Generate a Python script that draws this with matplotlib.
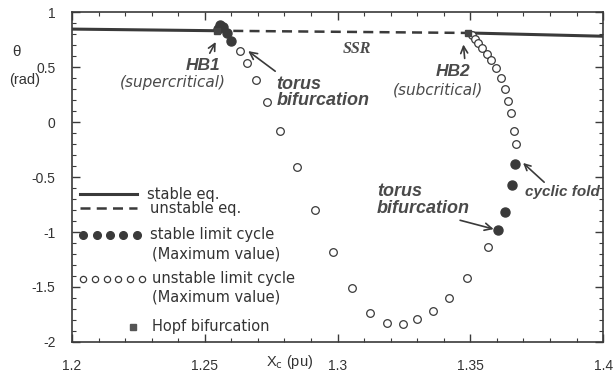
import matplotlib.pyplot as plt
from matplotlib.ticker import MultipleLocator
import numpy as np

plt.rcParams['font.family'] = ['Liberation Sans', 'DejaVu Sans']

# equilibrium branch (theta vs Xc)
eq_stable_left_x = [1.2, 1.2546]
eq_stable_left_y = [0.845, 0.83]
eq_unstable_x = [1.2546, 1.349]
eq_unstable_y = [0.83, 0.81]
eq_stable_right_x = [1.349, 1.4]
eq_stable_right_y = [0.81, 0.78]

# stable limit cycles (maximum value)
slc_left_x = [1.2548, 1.2556, 1.2568, 1.2582, 1.2600]
slc_left_y = [0.85, 0.88, 0.86, 0.81, 0.74]
slc_right_x = [1.3669, 1.3657, 1.3631, 1.3605]
slc_right_y = [-0.38, -0.57, -0.82, -0.98]

# unstable limit cycles (maximum value)
ulc_x = [1.2633, 1.2659, 1.2693, 1.2734, 1.2783, 1.2847, 1.2915, 1.2983,
         1.3055, 1.3122, 1.3186, 1.3247, 1.3299, 1.3360, 1.3420, 1.3488,
         1.3567]
ulc_y = [0.645, 0.536, 0.38, 0.18, -0.08, -0.41, -0.80, -1.18,
         -1.51, -1.74, -1.83, -1.84, -1.79, -1.72, -1.60, -1.42,
         -1.14]
ulc2_x = [1.3505, 1.3518, 1.3530, 1.3545, 1.3562, 1.3578, 1.3597, 1.3615,
          1.3630, 1.3642, 1.3654, 1.3665, 1.3672]
ulc2_y = [0.79, 0.755, 0.72, 0.675, 0.62, 0.56, 0.49, 0.40,
          0.30, 0.19, 0.08, -0.08, -0.20]

# Hopf bifurcation points
hopf_x = [1.2546, 1.349]
hopf_y = [0.83, 0.81]

col = "#3a3a3a"
txtcol = "#4a4a4a"

fig = plt.figure(figsize=(6.16, 3.81), dpi=100)
ax = fig.add_axes([0.117, 0.1024, 0.862, 0.866])

ax.plot(eq_stable_left_x, eq_stable_left_y, color=col, lw=2.2)
ax.plot(eq_stable_right_x, eq_stable_right_y, color=col, lw=2.2)
ax.plot(eq_unstable_x, eq_unstable_y, color=col, lw=1.8, dashes=(4, 2.5))
ax.plot(ulc_x, ulc_y, "o", ms=5.5, mfc="white", mec=col, mew=0.9, ls="none")
ax.plot(ulc2_x, ulc2_y, "o", ms=5.5, mfc="white", mec=col, mew=0.9, ls="none")
ax.plot(slc_left_x, slc_left_y, "o", ms=6.5, color=col, ls="none")
ax.plot(slc_right_x, slc_right_y, "o", ms=6.5, color=col, ls="none")
ax.plot(hopf_x, hopf_y, "s", ms=5, color="#444444", ls="none")

ax.set_xlim(1.2, 1.4)
ax.set_ylim(-2, 1)
ax.xaxis.set_major_locator(MultipleLocator(0.05))
ax.xaxis.set_minor_locator(MultipleLocator(0.01))
ax.yaxis.set_major_locator(MultipleLocator(0.5))
ax.yaxis.set_minor_locator(MultipleLocator(0.1))
ax.xaxis.set_major_formatter(plt.FuncFormatter(lambda v, p: ("%.2f" % v).rstrip("0").rstrip(".")))
ax.yaxis.set_major_formatter(plt.FuncFormatter(lambda v, p: ("%.1f" % v).rstrip("0").rstrip(".")))
ax.tick_params(which="both", direction="in", top=True, right=True, colors=col,
               labelsize=10, labelcolor="#333333")
ax.tick_params(which="major", length=6, width=1)
ax.tick_params(which="minor", length=3, width=0.8)
ax.tick_params(axis="x", pad=12)
ax.tick_params(axis="y", pad=12)
for s in ax.spines.values():
    s.set_color(col)
    s.set_linewidth(1.2)

# axis labels
fig.text(16 / 616, 1 - 52 / 381, "θ", fontsize=11, color="#333333", ha="center", va="center")
fig.text(25 / 616, 1 - 80 / 381, "(rad)", fontsize=10.5, color="#333333", ha="center", va="center")
fig.text(290 / 616, 1 - 362 / 381, "X$_{\\rm c}$ (pu)", fontsize=10.5, color="#333333",
         ha="center", va="center")

# annotations
bi = dict(fontsize=12.5, fontweight="bold", fontstyle="italic", color=txtcol)
bi2 = dict(fontsize=13, fontweight="bold", fontstyle="italic", color=txtcol)
it = dict(fontsize=11, fontstyle="italic", color=txtcol, family="DejaVu Sans")

ax.annotate("HB1", xy=(1.2546, 0.75), xytext=(1.2495, 0.51), ha="center", va="center",
            arrowprops=dict(arrowstyle="->", color=col, lw=1.2, relpos=(0.6, 1.0)), **bi)
ax.text(1.2380, 0.36, "(supercritical)", ha="center", va="center", **it)
ax.annotate("torus\nbifurcation", xy=(1.2655, 0.66), xytext=(1.2770, 0.27),
            ha="left", va="center", linespacing=0.95,
            arrowprops=dict(arrowstyle="->", color=col, lw=1.2, relpos=(0.05, 1.0)), **bi2)
ax.text(1.3073, 0.66, "SSR", ha="center", va="center", fontsize=11.5,
        fontweight="bold", fontstyle="italic", color=txtcol, family="Liberation Serif")
ax.annotate("HB2", xy=(1.3473, 0.73), xytext=(1.3435, 0.46), ha="center", va="center",
            arrowprops=dict(arrowstyle="->", color=col, lw=1.2, relpos=(0.85, 1.0)), **bi)
ax.text(1.3379, 0.29, "(subcritical)", ha="center", va="center", **it)
ax.annotate("torus\nbifurcation", xy=(1.3598, -0.98), xytext=(1.3149, -0.71),
            ha="left", va="center", linespacing=0.95,
            arrowprops=dict(arrowstyle="->", color=col, lw=1.2, relpos=(0.75, 0.0)), **bi2)
ax.annotate("cyclic fold", xy=(1.3691, -0.355), xytext=(1.3705, -0.636),
            ha="left", va="center", arrowprops=dict(arrowstyle="->", color=col, lw=1.2,
                                                    shrinkA=0, relpos=(0.3, 1.0)),
            fontsize=11, fontweight="bold", fontstyle="italic", color=txtcol)

# hand-made legend
tr = ax.transAxes
lg = dict(transform=tr, va="center", fontsize=10.5, color="#333333", family="DejaVu Sans")
lx0, lx1 = 0.015, 0.122
ax.plot([lx0, lx1], [0.448, 0.448], color=col, lw=2.2, transform=tr)
ax.text(0.141, 0.448, "stable eq.", **lg)
ax.plot([lx0, lx1], [0.406, 0.406], color=col, lw=1.8, dashes=(4, 2.5), transform=tr)
ax.text(0.146, 0.406, "unstable eq.", **lg)
ax.plot(np.linspace(0.021, 0.122, 5), [0.324] * 5, "o", ms=5.5, color=col, transform=tr)
ax.text(0.146, 0.327, "stable limit cycle", **lg)
ax.text(0.151, 0.267, "(Maximum value)", **lg)
ax.plot(np.linspace(0.021, 0.131, 6), [0.191] * 6, "o", ms=4.5, mfc="white", mec=col,
        mew=0.9, transform=tr)
ax.text(0.151, 0.191, "unstable limit cycle", **lg)
ax.text(0.151, 0.136, "(Maximum value)", **lg)
ax.plot([0.115], [0.045], "s", ms=5, color="#555555", transform=tr)
ax.text(0.151, 0.047, "Hopf bifurcation", **lg)

fig.savefig("out.png", dpi=100)
